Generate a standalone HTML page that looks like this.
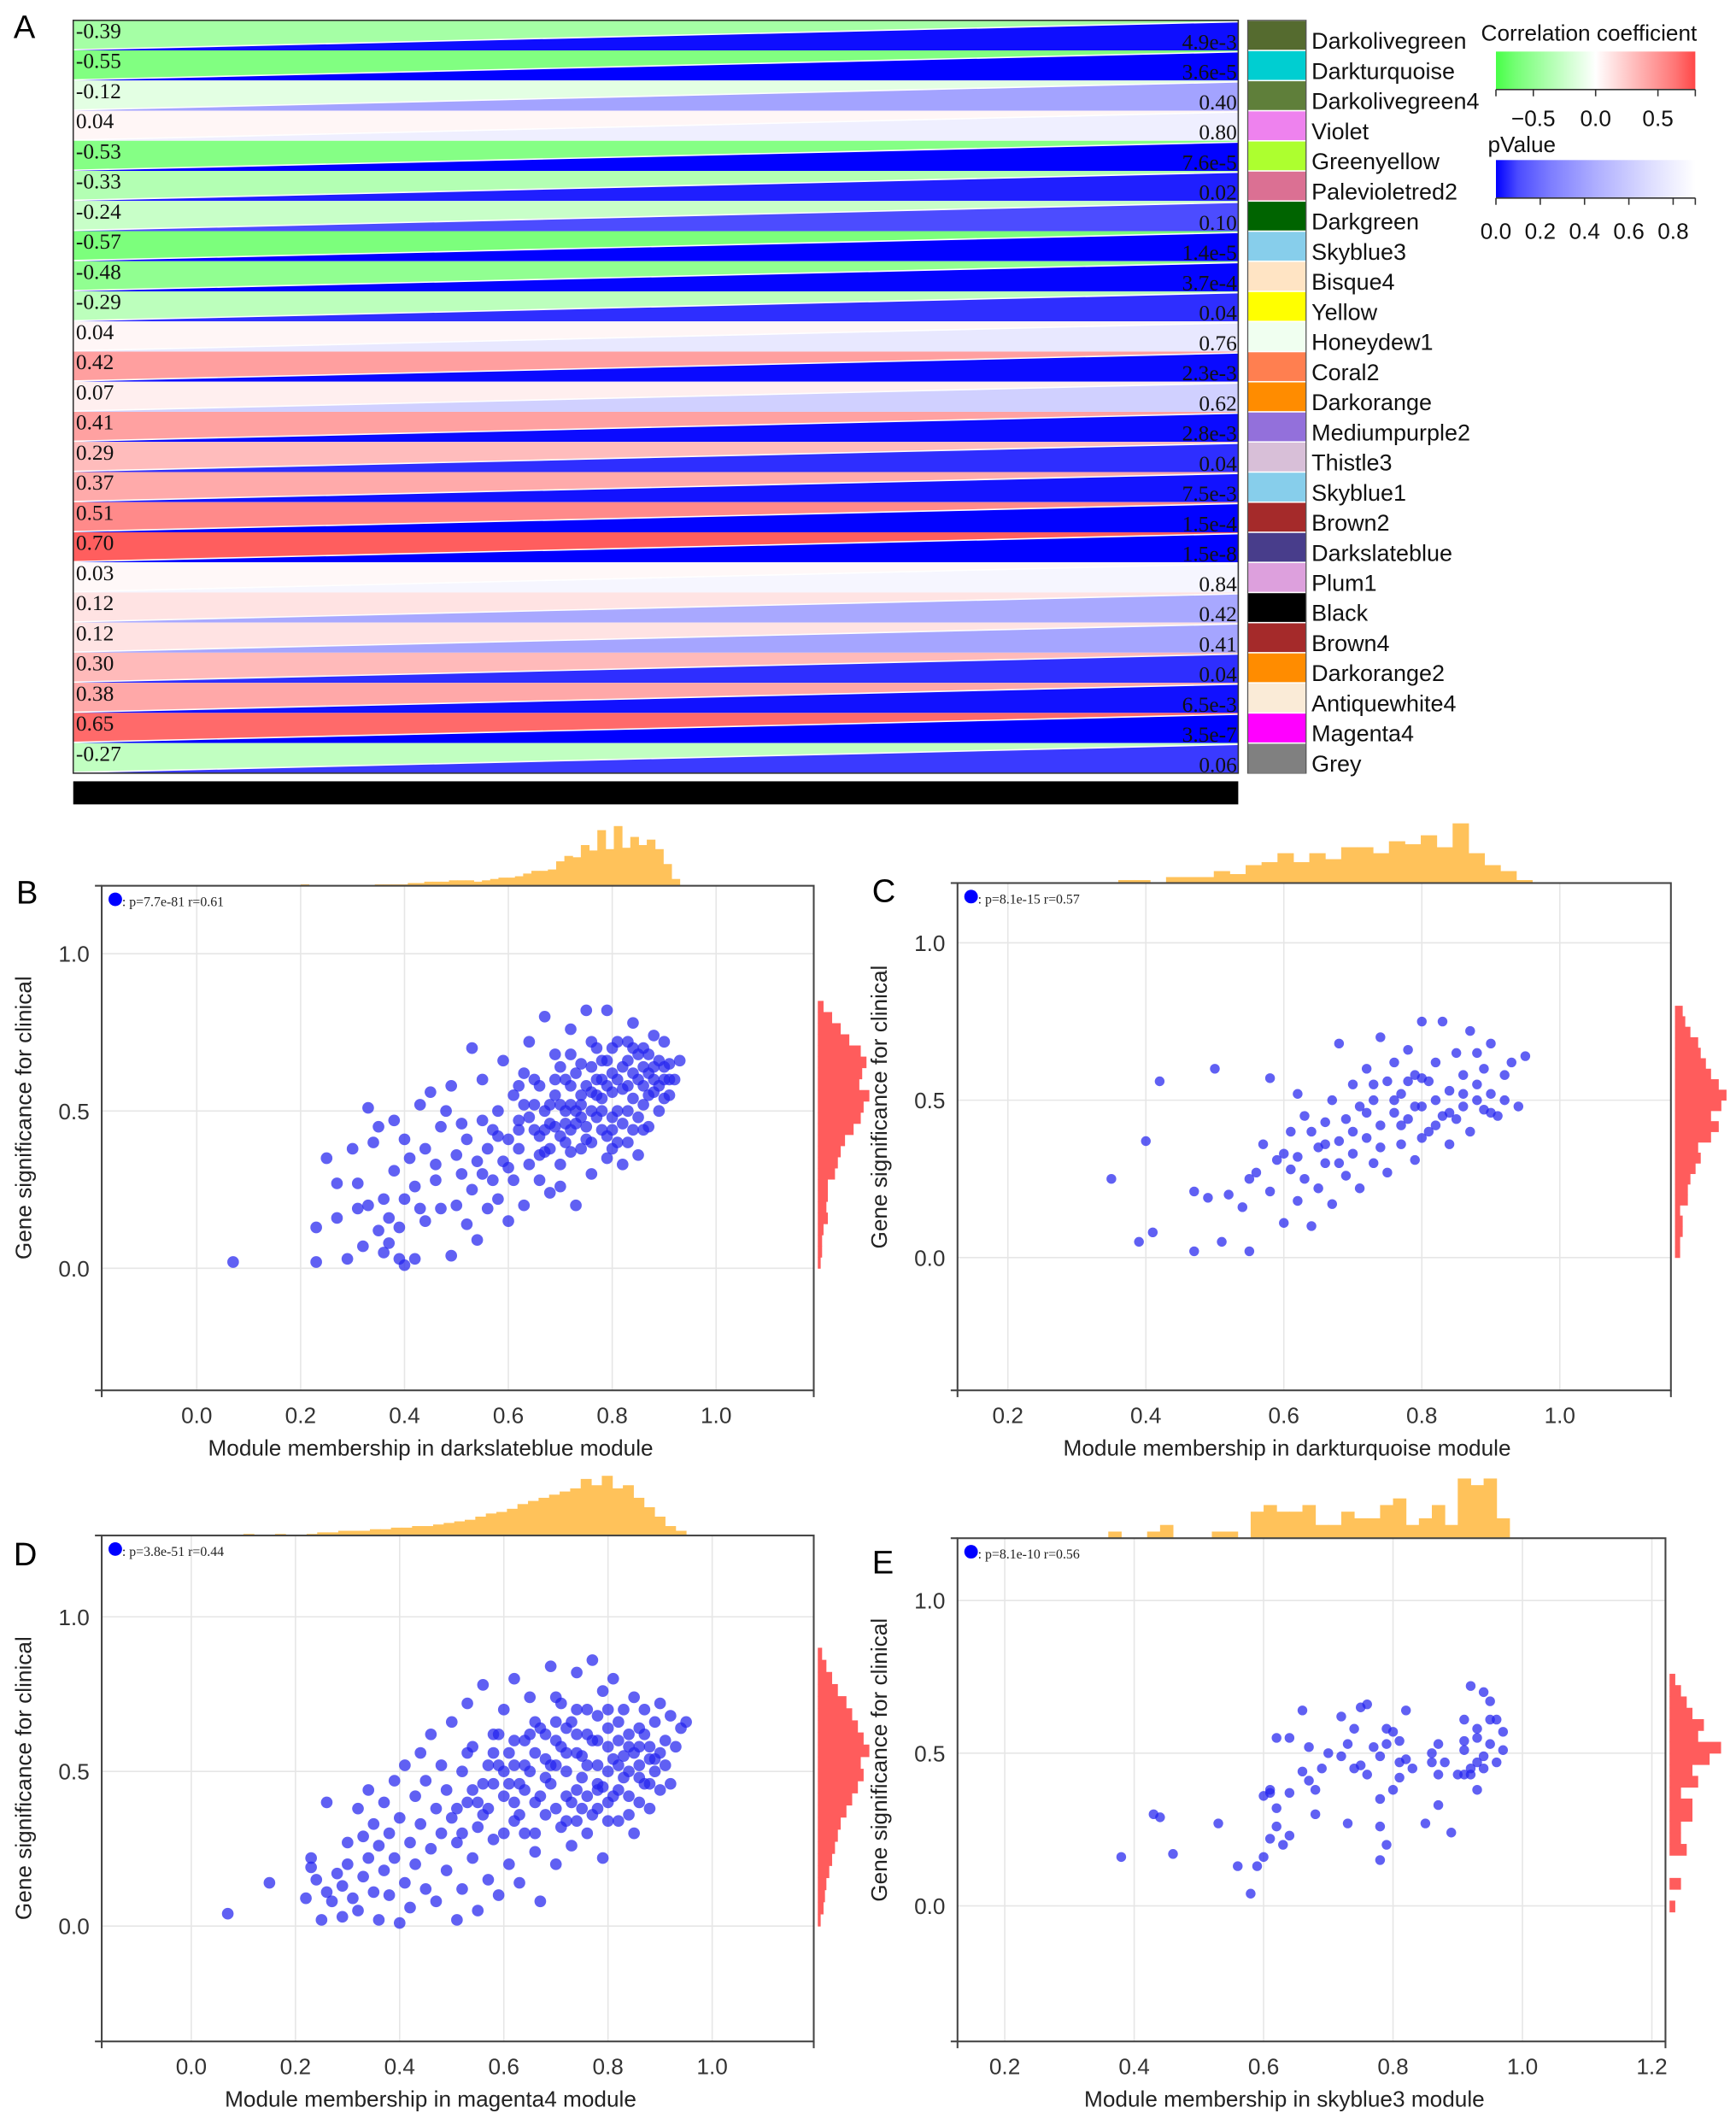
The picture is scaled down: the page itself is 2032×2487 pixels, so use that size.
<!DOCTYPE html>
<html><head><meta charset="utf-8">
<style>
html,body{margin:0;padding:0;background:#fff;}
svg{display:block;}
text{font-family:"Liberation Sans",sans-serif;}
.serif{font-family:"Liberation Serif",serif;}
</style></head>
<body>
<svg id="fig" xmlns="http://www.w3.org/2000/svg" width="2032" height="2487" viewBox="0 0 1280 1566.6" preserveAspectRatio="none">
<rect width="1280" height="1567" fill="#fff"/>
<g id="panelA"></g>
<g id="panels"></g>
</svg>
<script>
const NS="http://www.w3.org/2000/svg";
function mk(tag,attrs,parent,txt){const e=document.createElementNS(NS,tag);for(const k in attrs)e.setAttribute(k,attrs[k]);if(txt!==undefined)e.textContent=txt;parent.appendChild(e);return e;}

// ---------- Panel A data ----------
const moduleNames=["Darkolivegreen","Darkturquoise","Darkolivegreen4","Violet","Greenyellow","Palevioletred2","Darkgreen","Skyblue3","Bisque4","Yellow","Honeydew1","Coral2","Darkorange","Mediumpurple2","Thistle3","Skyblue1","Brown2","Darkslateblue","Plum1","Black","Brown4","Darkorange2","Antiquewhite4","Magenta4","Grey"];
const moduleColors=["#556b2f","#00ced1","#5f7f3a","#ee82ee","#adff2f","#db7093","#006400","#87ceeb","#ffe4c4","#ffff00","#f0fff0","#ff7f50","#ff8c00","#9370db","#d8bfd8","#87ceeb","#a52a2a","#483d8b","#dda0dd","#000000","#a52a2a","#ff8c00","#faebd7","#ff00ff","#808080"];
const corrValues=[-0.39,-0.55,-0.12,0.04,-0.53,-0.33,-0.24,-0.57,-0.48,-0.29,0.04,0.42,0.07,0.41,0.29,0.37,0.51,0.70,0.03,0.12,0.12,0.30,0.38,0.65,-0.27];
const pValues=[0.0049,0.000036,0.40,0.80,0.000076,0.02,0.10,0.000014,0.00037,0.04,0.76,0.0023,0.62,0.0028,0.04,0.0075,0.00015,0.000000015,0.84,0.42,0.41,0.04,0.0065,0.00000035,0.06];
const pLabels=["4.9e-3","3.6e-5","0.40","0.80","7.6e-5","0.02","0.10","1.4e-5","3.7e-4","0.04","0.76","2.3e-3","0.62","2.8e-3","0.04","7.5e-3","1.5e-4","1.5e-8","0.84","0.42","0.41","0.04","6.5e-3","3.5e-7","0.06"];
const corrTicks=[-0.5,0.0,0.5];
const pTicks=[0.0,0.2,0.4,0.6,0.8];

function corrColor(r){const t=Math.min(Math.abs(r)/0.8,1);const v=Math.round(255*(1-0.72*t));return r<0?`rgb(${v},255,${v})`:`rgb(255,${v},${v})`;}
function pColor(p){const t=Math.min(p/0.9,1);const v=Math.round(255*Math.pow(t,0.55));return `rgb(${v},${v},255)`;}

(function(){
 const g=document.getElementById('panelA');
 const x0=54,x1=913,y0=15,y1=570,n=moduleNames.length,rh=(y1-y0)/n;
 const lab=mk('text',{x:10,y:28,'font-size':24},g,'A');
 for(let i=0;i<n;i++){
  const t=y0+i*rh,b=t+rh;
  const row=mk('g',{},g);
  mk('rect',{x:x0,y:t,width:x1-x0,height:rh,fill:'#fff'},row);
  const c=mk('polygon',{points:`${x0},${t} ${x1},${t} ${x1},${t+0.5} ${x0},${b-1}`,fill:corrColor(corrValues[i])},row);
  
  const p=mk('polygon',{points:`${x0},${b} ${x1},${t+1.5} ${x1},${b}`,fill:pColor(pValues[i])},row);
  
  const ct=mk('text',{x:x0+2,y:t+13,'font-size':16,class:'serif',fill:'#111'},row,corrValues[i].toFixed(2));
  
  const pt=mk('text',{x:x1-1,y:b-1,'font-size':16,class:'serif','text-anchor':'end',fill:'#111'},row,pLabels[i]);
  
  const sw=mk('rect',{x:920,y:t+0.5,width:43,height:rh-1,fill:moduleColors[i]},row);
  
  const nt=mk('text',{x:967,y:t+rh*0.72+5,'font-size':17,fill:'#111'},row,moduleNames[i]);
  
 }
 const bd=mk('rect',{x:x0,y:y0,width:x1-x0,height:y1-y0,fill:'none',stroke:'#333','stroke-width':1},g);
 
 const sb=mk('rect',{x:920,y:y0,width:43,height:y1-y0,fill:'none',stroke:'#555','stroke-width':0.8},g);
 
 const bar=mk('rect',{x:x0,y:576,width:x1-x0,height:17,fill:'#000'},g);
 
 const defs=mk('defs',{},g);
 const lg1=mk('linearGradient',{id:'gCorr',x1:0,x2:1,y1:0,y2:0},defs);
 [[0,corrColor(-0.8)],[0.1,corrColor(-0.6)],[0.5,'#fff'],[0.9,corrColor(0.6)],[1,corrColor(0.8)]].forEach(s=>mk('stop',{offset:s[0],'stop-color':s[1]},lg1));
 const lg2=mk('linearGradient',{id:'gP',x1:0,x2:1,y1:0,y2:0},defs);
 [0,0.1,0.25,0.45,0.7,0.9].forEach(p=>mk('stop',{offset:p/0.9,'stop-color':pColor(p)},lg2));
 const cx0=1103,cx1=1250;
 const t1=mk('text',{x:1092,y:30,'font-size':16.5,fill:'#111'},g,'Correlation coefficient');
 const r1=mk('rect',{x:cx0,y:38,width:cx1-cx0,height:28,fill:'url(#gCorr)'},g);
 const cs=v=>cx0+(v+0.8)/1.6*(cx1-cx0);
 mk('line',{x1:cx0,x2:cx1,y1:66,y2:66,stroke:'#333'},g);
 corrTicks.forEach(v=>{mk('line',{x1:cs(v),x2:cs(v),y1:66,y2:71,stroke:'#333'},g);const tt=mk('text',{x:cs(v),y:93,'font-size':16.5,'text-anchor':'middle',fill:'#111'},g,v===0?'0.0':(v<0?'\u22120.5':'0.5'));});
 mk('line',{x1:cx0,x2:cx0,y1:66,y2:71,stroke:'#333'},g);mk('line',{x1:cx1,x2:cx1,y1:66,y2:71,stroke:'#333'},g);
 const t2=mk('text',{x:1097,y:112,'font-size':16.5,fill:'#111'},g,'pValue');
 const r2=mk('rect',{x:cx0,y:118,width:cx1-cx0,height:28,fill:'url(#gP)'},g);
 const ps=v=>cx0+v/0.9*(cx1-cx0);
 mk('line',{x1:cx0,x2:cx1,y1:146,y2:146,stroke:'#333'},g);
 pTicks.forEach(v=>{mk('line',{x1:ps(v),x2:ps(v),y1:146,y2:151,stroke:'#333'},g);const tt=mk('text',{x:ps(v),y:176,'font-size':16.5,'text-anchor':'middle',fill:'#111'},g,v.toFixed(1));});
 mk('line',{x1:cx1,x2:cx1,y1:146,y2:151,stroke:'#333'},g);
})();

// ---------- Scatter data ----------
const pointsB=[[0.07,0.02],[0.23,0.02],[0.23,0.13],[0.25,0.35],[0.27,0.27],[0.27,0.16],[0.29,0.03],[0.30,0.38],[0.31,0.27],[0.31,0.19],[0.32,0.07],[0.33,0.2],[0.33,0.51],[0.34,0.4],[0.35,0.12],[0.35,0.45],[0.36,0.05],[0.36,0.22],[0.37,0.16],[0.37,0.08],[0.38,0.31],[0.38,0.47],[0.39,0.13],[0.39,0.03],[0.40,0.22],[0.40,0.01],[0.40,0.41],[0.41,0.35],[0.42,0.03],[0.42,0.26],[0.43,0.19],[0.43,0.52],[0.44,0.15],[0.44,0.38],[0.45,0.56],[0.46,0.33],[0.46,0.28],[0.47,0.19],[0.47,0.45],[0.48,0.5],[0.49,0.04],[0.49,0.58],[0.50,0.2],[0.50,0.36],[0.51,0.3],[0.51,0.46],[0.52,0.14],[0.52,0.41],[0.53,0.25],[0.53,0.7],[0.54,0.34],[0.54,0.09],[0.55,0.47],[0.55,0.6],[0.56,0.19],[0.56,0.38],[0.57,0.28],[0.57,0.44],[0.58,0.5],[0.58,0.22],[0.59,0.34],[0.59,0.66],[0.60,0.15],[0.60,0.41],[0.61,0.55],[0.61,0.28],[0.62,0.38],[0.62,0.47],[0.63,0.62],[0.63,0.2],[0.64,0.33],[0.64,0.72],[0.65,0.44],[0.65,0.52],[0.66,0.28],[0.66,0.58],[0.67,0.37],[0.67,0.8],[0.68,0.46],[0.68,0.24],[0.69,0.55],[0.69,0.68],[0.70,0.33],[0.70,0.42],[0.71,0.5],[0.71,0.6],[0.72,0.37],[0.72,0.76],[0.73,0.46],[0.73,0.2],[0.74,0.55],[0.74,0.65],[0.75,0.41],[0.75,0.82],[0.76,0.5],[0.76,0.3],[0.77,0.6],[0.77,0.7],[0.78,0.44],[0.78,0.54],[0.79,0.82],[0.79,0.35],[0.80,0.62],[0.80,0.48],[0.81,0.72],[0.81,0.4],[0.82,0.57],[0.82,0.33],[0.83,0.66],[0.83,0.5],[0.84,0.78],[0.84,0.44],[0.85,0.6],[0.85,0.36],[0.86,0.7],[0.86,0.52],[0.87,0.62],[0.87,0.45],[0.88,0.56],[0.88,0.74],[0.89,0.66],[0.89,0.5],[0.90,0.6],[0.90,0.72],[0.91,0.55],[0.91,0.65],[0.92,0.6],[0.93,0.66],[0.72,0.58],[0.76,0.64],[0.8,0.56],[0.84,0.62],[0.78,0.66],[0.74,0.48],[0.7,0.52],[0.66,0.42],[0.62,0.58],[0.86,0.58],[0.82,0.64],[0.68,0.38],[0.64,0.48],[0.88,0.64],[0.76,0.4],[0.8,0.7],[0.72,0.68],[0.84,0.54],[0.9,0.54],[0.6,0.32],[0.58,0.42],[0.55,0.3],[0.7,0.26],[0.65,0.6],[0.85,0.68],[0.79,0.58],[0.75,0.58],[0.73,0.62],[0.81,0.5],[0.77,0.48],[0.83,0.58],[0.87,0.68],[0.69,0.45],[0.71,0.4],[0.67,0.5],[0.74,0.52],[0.78,0.5],[0.82,0.46],[0.86,0.64],[0.8,0.44],[0.76,0.56],[0.72,0.44],[0.68,0.52],[0.88,0.6],[0.84,0.7],[0.78,0.6],[0.74,0.38],[0.7,0.64],[0.9,0.64],[0.66,0.36],[0.62,0.44],[0.75,0.45],[0.79,0.42],[0.83,0.4],[0.87,0.55],[0.81,0.6],[0.77,0.55],[0.73,0.5],[0.69,0.6],[0.85,0.48],[0.89,0.58],[0.71,0.46],[0.63,0.52],[0.67,0.44],[0.79,0.66],[0.83,0.72],[0.91,0.6],[0.76,0.72],[0.8,0.38],[0.86,0.44],[0.72,0.52]];
const pointsC=[[0.35,0.25],[0.39,0.05],[0.40,0.37],[0.41,0.08],[0.42,0.56],[0.47,0.02],[0.47,0.21],[0.49,0.19],[0.50,0.6],[0.51,0.05],[0.52,0.2],[0.54,0.16],[0.55,0.25],[0.55,0.02],[0.56,0.27],[0.57,0.36],[0.58,0.57],[0.58,0.21],[0.59,0.31],[0.60,0.11],[0.60,0.33],[0.61,0.28],[0.61,0.4],[0.62,0.18],[0.62,0.52],[0.63,0.25],[0.63,0.45],[0.64,0.4],[0.64,0.1],[0.65,0.35],[0.65,0.22],[0.66,0.43],[0.66,0.3],[0.67,0.17],[0.67,0.5],[0.68,0.37],[0.68,0.68],[0.69,0.44],[0.69,0.26],[0.70,0.33],[0.70,0.55],[0.71,0.22],[0.71,0.48],[0.72,0.6],[0.72,0.38],[0.73,0.3],[0.73,0.5],[0.74,0.42],[0.74,0.7],[0.75,0.56],[0.75,0.27],[0.76,0.46],[0.76,0.62],[0.77,0.36],[0.77,0.52],[0.78,0.44],[0.78,0.66],[0.79,0.58],[0.79,0.31],[0.80,0.48],[0.80,0.75],[0.81,0.4],[0.81,0.56],[0.82,0.5],[0.82,0.62],[0.83,0.45],[0.83,0.75],[0.84,0.36],[0.84,0.53],[0.85,0.65],[0.85,0.44],[0.86,0.58],[0.86,0.48],[0.87,0.72],[0.87,0.4],[0.88,0.55],[0.88,0.65],[0.89,0.47],[0.89,0.6],[0.90,0.52],[0.90,0.68],[0.91,0.45],[0.92,0.58],[0.92,0.5],[0.93,0.62],[0.94,0.48],[0.95,0.64],[0.78,0.56],[0.8,0.57],[0.76,0.5],[0.72,0.46],[0.74,0.35],[0.7,0.4],[0.66,0.36],[0.84,0.46],[0.86,0.52],[0.82,0.42],[0.8,0.38],[0.88,0.5],[0.9,0.46],[0.68,0.3],[0.62,0.32],[0.77,0.42],[0.73,0.55],[0.79,0.48]];
const pointsD=[[0.07,0.04],[0.15,0.14],[0.22,0.09],[0.23,0.19],[0.23,0.22],[0.24,0.15],[0.25,0.02],[0.26,0.11],[0.26,0.4],[0.27,0.08],[0.28,0.17],[0.29,0.03],[0.29,0.13],[0.30,0.27],[0.30,0.2],[0.31,0.09],[0.32,0.38],[0.32,0.05],[0.33,0.29],[0.33,0.16],[0.34,0.22],[0.34,0.44],[0.35,0.11],[0.35,0.33],[0.36,0.26],[0.36,0.02],[0.37,0.18],[0.37,0.4],[0.38,0.3],[0.38,0.1],[0.39,0.47],[0.39,0.22],[0.40,0.01],[0.40,0.35],[0.41,0.14],[0.41,0.52],[0.42,0.27],[0.42,0.06],[0.43,0.42],[0.43,0.2],[0.44,0.56],[0.44,0.33],[0.45,0.12],[0.45,0.47],[0.46,0.25],[0.46,0.62],[0.47,0.38],[0.47,0.08],[0.48,0.3],[0.48,0.52],[0.49,0.18],[0.49,0.44],[0.50,0.66],[0.50,0.35],[0.51,0.02],[0.51,0.27],[0.52,0.5],[0.52,0.12],[0.53,0.4],[0.53,0.72],[0.54,0.22],[0.54,0.58],[0.55,0.32],[0.55,0.05],[0.56,0.46],[0.56,0.78],[0.57,0.15],[0.57,0.38],[0.58,0.62],[0.58,0.28],[0.59,0.52],[0.59,0.1],[0.60,0.42],[0.60,0.7],[0.61,0.2],[0.61,0.56],[0.62,0.34],[0.62,0.8],[0.63,0.46],[0.63,0.14],[0.64,0.6],[0.64,0.3],[0.65,0.5],[0.65,0.74],[0.66,0.24],[0.66,0.4],[0.67,0.64],[0.67,0.08],[0.68,0.54],[0.68,0.36],[0.69,0.84],[0.69,0.46],[0.70,0.2],[0.70,0.6],[0.71,0.32],[0.71,0.72],[0.72,0.5],[0.72,0.42],[0.73,0.66],[0.73,0.26],[0.74,0.56],[0.74,0.82],[0.75,0.38],[0.75,0.48],[0.76,0.7],[0.76,0.3],[0.77,0.6],[0.77,0.86],[0.78,0.44],[0.78,0.52],[0.79,0.76],[0.79,0.22],[0.80,0.64],[0.80,0.4],[0.81,0.54],[0.81,0.8],[0.82,0.34],[0.82,0.6],[0.83,0.48],[0.83,0.7],[0.84,0.42],[0.84,0.58],[0.85,0.74],[0.85,0.3],[0.86,0.52],[0.86,0.64],[0.87,0.46],[0.87,0.7],[0.88,0.38],[0.88,0.58],[0.89,0.66],[0.89,0.5],[0.90,0.72],[0.90,0.44],[0.91,0.6],[0.91,0.52],[0.92,0.68],[0.92,0.46],[0.93,0.58],[0.94,0.64],[0.95,0.66],[0.64,0.44],[0.68,0.48],[0.72,0.56],[0.76,0.52],[0.8,0.5],[0.84,0.5],[0.88,0.46],[0.7,0.38],[0.74,0.44],[0.78,0.6],[0.82,0.44],[0.86,0.4],[0.6,0.5],[0.66,0.56],[0.7,0.66],[0.74,0.62],[0.78,0.68],[0.82,0.66],[0.86,0.58],[0.9,0.56],[0.62,0.4],[0.66,0.3],[0.7,0.52],[0.74,0.34],[0.78,0.38],[0.82,0.52],[0.58,0.46],[0.62,0.6],[0.66,0.66],[0.7,0.74],[0.74,0.7],[0.78,0.46],[0.8,0.58],[0.76,0.62],[0.72,0.64],[0.68,0.62],[0.64,0.52],[0.84,0.62],[0.88,0.54],[0.86,0.48],[0.8,0.34],[0.76,0.42],[0.56,0.36],[0.6,0.3],[0.52,0.3],[0.54,0.44],[0.58,0.56],[0.62,0.52],[0.72,0.34],[0.8,0.7],[0.84,0.36],[0.75,0.55],[0.79,0.45],[0.83,0.55],[0.71,0.58],[0.67,0.42],[0.63,0.36],[0.59,0.62],[0.87,0.62],[0.81,0.42],[0.77,0.36],[0.73,0.4],[0.69,0.52],[0.65,0.62],[0.61,0.46],[0.57,0.52],[0.89,0.54],[0.85,0.56],[0.55,0.4],[0.51,0.38],[0.53,0.56]];
const pointsE=[[0.38,0.16],[0.43,0.3],[0.44,0.29],[0.46,0.17],[0.53,0.27],[0.56,0.13],[0.58,0.04],[0.59,0.13],[0.60,0.16],[0.60,0.36],[0.61,0.38],[0.61,0.37],[0.61,0.22],[0.62,0.32],[0.62,0.26],[0.62,0.55],[0.63,0.2],[0.64,0.23],[0.64,0.55],[0.64,0.37],[0.66,0.44],[0.66,0.64],[0.67,0.41],[0.67,0.52],[0.68,0.38],[0.68,0.3],[0.69,0.45],[0.70,0.5],[0.72,0.49],[0.72,0.62],[0.73,0.53],[0.73,0.27],[0.74,0.45],[0.74,0.58],[0.75,0.46],[0.75,0.65],[0.76,0.66],[0.76,0.43],[0.77,0.52],[0.78,0.49],[0.78,0.35],[0.78,0.15],[0.78,0.26],[0.79,0.2],[0.79,0.53],[0.79,0.58],[0.80,0.57],[0.80,0.38],[0.81,0.47],[0.81,0.54],[0.81,0.42],[0.82,0.64],[0.82,0.48],[0.83,0.45],[0.85,0.27],[0.86,0.47],[0.86,0.5],[0.87,0.53],[0.87,0.33],[0.87,0.43],[0.88,0.47],[0.89,0.24],[0.90,0.43],[0.91,0.61],[0.91,0.54],[0.91,0.51],[0.92,0.72],[0.92,0.43],[0.92,0.45],[0.93,0.47],[0.93,0.55],[0.93,0.58],[0.94,0.49],[0.94,0.45],[0.95,0.53],[0.95,0.67],[0.95,0.61],[0.96,0.61],[0.96,0.47],[0.97,0.57],[0.97,0.51],[0.93,0.38],[0.91,0.43],[0.94,0.7]];
const topHistB=[1,0,0,0,0,0,0,0,0,1,1,1,1,2,2,3,3,3,4,4,4,3,4,5,6,6,7,9,11,11,12,18,22,21,30,26,41,27,44,28,36,30,34,27,16,5];
const rightHistB=[2,3,3,4,7,6,7,7,12,14,16,19,25,30,32,36,29,31,34,30,22,16,10,4];
const topHistC=[1,1,0,2,2,2,4,3,6,7,10,7,10,8,12,12,10,14,13,16,12,20,10,6,4,1];
const rightHistC=[2,2,3,3,2,5,5,6,8,10,9,14,17,14,18,20,17,14,12,10,9,6,4,3];
const topHistD=[1,0,0,1,0,0,1,2,2,3,3,3,4,4,5,5,6,6,7,8,9,10,12,14,15,17,20,22,24,26,28,30,36,32,38,30,32,24,18,12,6,3];
const rightHistD=[2,4,5,6,8,10,12,14,16,20,24,28,32,30,36,32,28,24,20,14,10,6,3];
const topHistE=[1,0,0,1,2,0,0,0,1,1,0,4,5,4,4,5,2,2,4,3,3,5,6,2,3,5,2,9,8,9,3];
const rightHistE=[1,0,2,0,0,3,2,2,4,4,2,5,4,7,9,5,6,4,3,2,1];
const panelLetters=["B","C","D","E"];
const statLabels=[": p=7.7e-81 r=0.61",": p=8.1e-15 r=0.57",": p=3.8e-51 r=0.44",": p=8.1e-10 r=0.56"];
const xTitles=["Module membership in darkslateblue module","Module membership in darkturquoise module","Module membership in magenta4 module","Module membership in skyblue3 module"];
const xTicksB=[0,0.2,0.4,0.6,0.8,1.0], xTicksC=[0.2,0.4,0.6,0.8,1.0], xTicksE=[0.2,0.4,0.6,0.8,1.0,1.2];
const yTicks=[0,0.5,1.0];

const panels=[
 {pts:pointsB,top:topHistB,right:rightHistB,box:[75,653,600,1025],xd:[-0.183,1.188],yd:[-0.388,1.216],xt:xTicksB,tx:[0.2,0.93],ty:[0,0.85],lab:[12,654],r:4.3},
 {pts:pointsC,top:topHistC,right:rightHistC,box:[706,651,1232,1025],xd:[0.127,1.161],yd:[-0.422,1.19],xt:xTicksC,tx:[0.36,0.96],ty:[0,0.8],lab:[643,653],r:3.6},
 {pts:pointsD,top:topHistD,right:rightHistD,box:[75,1132,600,1505],xd:[-0.172,1.195],yd:[-0.373,1.263],xt:xTicksB,tx:[0.1,0.95],ty:[0,0.9],lab:[10,1142],r:4.3},
 {pts:pointsE,top:topHistE,right:rightHistE,box:[706,1134,1228,1505],xd:[0.127,1.221],yd:[-0.444,1.204],xt:xTicksE,tx:[0.36,0.98],ty:[-0.02,0.76],lab:[643,1148],r:3.6}
];

const root=document.getElementById('panels');
panels.forEach((P,i)=>{
 const g=mk('g',{},root);
 
 
 const [L,T,R,B]=P.box;
 const sx=v=>L+(v-P.xd[0])/(P.xd[1]-P.xd[0])*(R-L);
 const sy=v=>B-(v-P.yd[0])/(P.yd[1]-P.yd[0])*(B-T);
 const pl=mk('text',{x:P.lab[0],y:P.lab[1]+12,'font-size':24},g,panelLetters[i]);
 
 P.xt.forEach(v=>{const l=mk('line',{x1:sx(v),x2:sx(v),y1:T,y2:B,stroke:'#e6e6e6','stroke-width':1},g);});
 yTicks.forEach(v=>{const l=mk('line',{x1:L,x2:R,y1:sy(v),y2:sy(v),stroke:'#e6e6e6','stroke-width':1},g);});
 const nb=P.top.length,bw=(sx(P.tx[1])-sx(P.tx[0]))/nb,mt=Math.max(...P.top);
 P.top.forEach((c,k)=>{if(!c)return;const h=c/mt*44;const r=mk('rect',{x:sx(P.tx[0])+k*bw,y:T-h,width:bw+0.3,height:h,fill:'#ffc25a'},g);});
 const nr=P.right.length,bh=(sy(P.ty[0])-sy(P.ty[1]))/nr,mr=Math.max(...P.right);
 P.right.forEach((c,k)=>{if(!c)return;const w=c/mr*38;const r=mk('rect',{x:R+3,y:sy(P.ty[0])-(k+1)*bh,width:w,height:bh+0.3,fill:'#ff5c5c'},g);});
 P.pts.forEach(p=>{const c=mk('circle',{cx:sx(p[0]),cy:sy(p[1]),r:P.r,fill:'#2222ee','fill-opacity':0.72},g);});
 const bx=mk('rect',{x:L,y:T,width:R-L,height:B-T,fill:'none',stroke:'#444','stroke-width':1.3},g);
 
 [L,R].forEach(x=>mk('line',{x1:x,x2:x,y1:B,y2:B+5,stroke:'#444','stroke-width':1.3},g));
 mk('line',{x1:L-5,x2:L,y1:T,y2:T,stroke:'#444','stroke-width':1.3},g);
 mk('line',{x1:L-5,x2:L,y1:B,y2:B,stroke:'#444','stroke-width':1.3},g);
 P.xt.forEach(v=>{const t=mk('text',{x:sx(v),y:B+24,'font-size':16.5,'text-anchor':'middle',fill:'#333'},g,v.toFixed(1));});
 yTicks.forEach(v=>{const t=mk('text',{x:L-9,y:sy(v)+6,'font-size':16.5,'text-anchor':'end',fill:'#333'},g,v.toFixed(1));});
 const xt=mk('text',{x:(L+R)/2-20,y:B+48,'font-size':16.5,'text-anchor':'middle',fill:'#222'},g,xTitles[i]);
 
 const yx=L-52,yy=(sy(0)+sy(1))/2+5;
 const yt=mk('text',{x:yx,y:yy,'font-size':16.5,'text-anchor':'middle',fill:'#222',transform:`rotate(-90 ${yx} ${yy})`},g,'Gene significance for clinical');
 
 const ld=mk('circle',{cx:L+10,cy:T+10,r:5,fill:'#0000ff'},g);
 const lt=mk('text',{x:L+15,y:T+15,'font-size':10,class:'serif',fill:'#222'},g,statLabels[i]);
});
</script>
</body></html>
